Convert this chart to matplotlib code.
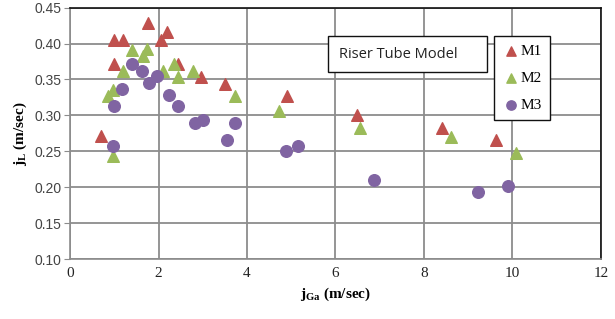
import matplotlib.pyplot as plt
from matplotlib.patches import Rectangle

# M1 (red triangles)
m1_x = [0.69, 1.0, 1.2, 1.75, 2.2, 2.05, 0.99, 2.43, 2.97, 3.5, 4.91, 6.49, 8.41, 9.63]
m1_y = [0.271, 0.405, 0.405, 0.429, 0.416, 0.405, 0.372, 0.372, 0.354, 0.344, 0.327, 0.300, 0.282, 0.266]

# M2 (green triangles)
m2_x = [0.86, 0.96, 0.96, 1.2, 1.41, 1.65, 1.73, 2.1, 2.35, 2.45, 2.78, 3.72, 4.72, 6.55, 8.61, 10.08]
m2_y = [0.327, 0.336, 0.243, 0.362, 0.391, 0.382, 0.392, 0.362, 0.372, 0.354, 0.362, 0.327, 0.306,
        0.282, 0.270, 0.247]

# M3 (purple circles)
m3_x = [0.99, 0.96, 1.18, 1.39, 1.63, 1.78, 1.96, 2.24, 2.45, 2.82, 3.01, 3.54, 3.72, 4.87, 5.15,
        6.86, 9.23, 9.89]
m3_y = [0.313, 0.257, 0.337, 0.372, 0.362, 0.345, 0.355, 0.328, 0.313, 0.289, 0.294, 0.266, 0.289,
        0.251, 0.257, 0.210, 0.193, 0.201]

xticks = [0, 2, 4, 6, 8, 10, 12]
yticks = [0.10, 0.15, 0.20, 0.25, 0.30, 0.35, 0.40, 0.45]

fig = plt.figure(figsize=(6.15, 3.19), dpi=100)
ax = fig.add_axes([0.114, 0.188, 0.863, 0.788])

ax.grid(True, color='#8c8c8c', linewidth=1.3, zorder=0)
ax.scatter(m1_x, m1_y, marker='^', s=70, color='#C0504D', label='M1', zorder=3)
ax.scatter(m2_x, m2_y, marker='^', s=70, color='#9BBB59', label='M2', zorder=3)
ax.scatter(m3_x, m3_y, marker='o', s=70, color='#8064A2', label='M3', zorder=3)

ax.set_xlim(0, 12)
ax.set_ylim(0.10, 0.45)
ax.set_xticks(xticks)
ax.set_xticklabels([str(v) for v in xticks], family='Liberation Serif', size=11, color='#222222')
ax.set_yticks(yticks)
ax.set_yticklabels(['%.2f' % v for v in yticks], family='Liberation Sans', size=10, color='#444444')
ax.tick_params(axis='x', length=0, pad=6)
ax.tick_params(axis='y', length=4, color='#8c8c8c', pad=2)

for side in ['left', 'bottom']:
    ax.spines[side].set_color('#8c8c8c')
    ax.spines[side].set_linewidth(1.2)
for side in ['top', 'right']:
    ax.spines[side].set_color('#111111')
    ax.spines[side].set_linewidth(1.2)

ax.set_xlabel(r'j$_{\mathregular{Ga}}$ (m/sec)', family='Liberation Serif', weight='bold', size=11)
ax.set_ylabel(r'j$_{\mathregular{L}}$ (m/sec)', family='Liberation Serif', weight='bold', size=11,
              labelpad=4)

leg = ax.legend(loc='upper left', bbox_to_anchor=(0.798, 0.887), frameon=True, fancybox=False,
                handletextpad=0.0, labelspacing=0.85, borderpad=0.55, handlelength=1.2,
                borderaxespad=0, framealpha=1,
                prop={'family': 'Liberation Serif', 'size': 11}, markerscale=0.8)
leg.get_frame().set_edgecolor('#111111')
leg.get_frame().set_linewidth(1.0)
leg.set_zorder(5)

# title box
ax.add_patch(Rectangle((0.486, 0.744), 0.299, 0.143, transform=ax.transAxes, facecolor='white',
                       edgecolor='#111111', linewidth=1.0, zorder=4))
ax.text(0.507, 0.815, 'Riser Tube Model', transform=ax.transAxes, family='Open Sans', size=10.5,
        color='#222222', va='center', ha='left', zorder=5)

fig.savefig('out.png', dpi=100)
